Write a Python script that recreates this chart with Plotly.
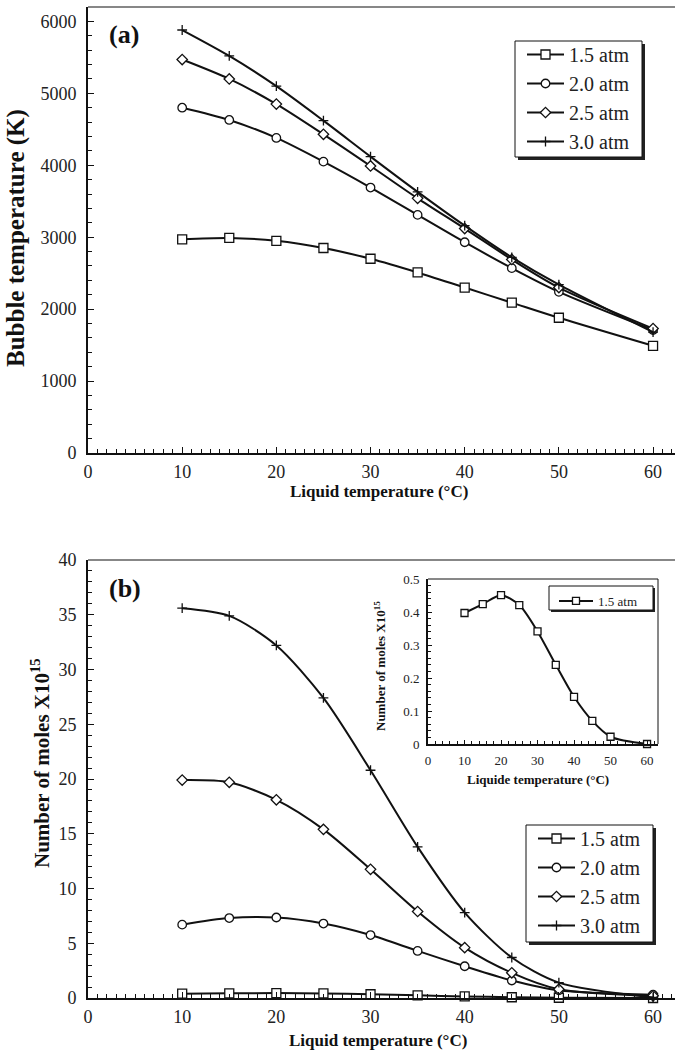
import plotly.graph_objects as go

# ---------------- data ----------------
liquid_temp = [10, 15, 20, 25, 30, 35, 40, 45, 50, 60]
series_names = ["1.5 atm", "2.0 atm", "2.5 atm", "3.0 atm"]

bubble_15 = [2970, 2990, 2950, 2850, 2700, 2510, 2300, 2090, 1880, 1490]
bubble_20 = [4800, 4630, 4380, 4050, 3690, 3310, 2930, 2570, 2240, 1710]
bubble_25 = [5470, 5200, 4850, 4430, 3990, 3540, 3120, 2690, 2300, 1730]
bubble_30 = [5880, 5520, 5100, 4620, 4120, 3630, 3160, 2720, 2340, 1680]

moles_15 = [0.397, 0.424, 0.451, 0.421, 0.341, 0.240, 0.143, 0.070, 0.022, 0.0]
moles_20 = [6.7, 7.3, 7.35, 6.8, 5.75, 4.3, 2.9, 1.6, 0.7, 0.3]
moles_25 = [19.9, 19.7, 18.1, 15.4, 11.75, 7.9, 4.6, 2.3, 0.8, 0.2]
moles_30 = [35.6, 34.9, 32.2, 27.4, 20.8, 13.8, 7.8, 3.7, 1.4, 0.05]

# ---------------- style ----------------
W, H = 675, 1055
FONT = "Liberation Serif"
INK = "#111111"

symbols = ["square", "circle", "diamond", "cross-thin"]
sizes = [9, 8.5, 8, 7]
fills = ["white", "white", "white", INK]


def px(x):
    return x / W


def py(y):
    return 1 - y / H


fig = go.Figure()


def add_series(xs, ys, idx, name, xa, ya, legend, lw=2.0, msize=None):
    fig.add_trace(go.Scatter(
        x=xs, y=ys, name=name, mode="lines+markers",
        xaxis=xa, yaxis=ya, legend=legend,
        line=dict(color=INK, width=lw, shape="spline", smoothing=0.8),
        marker=dict(symbol=symbols[idx], size=msize or sizes[idx], color=fills[idx],
                    line=dict(color=INK, width=1.3)),
        cliponaxis=False,
    ))


bubble = [bubble_15, bubble_20, bubble_25, bubble_30]
moles = [moles_15, moles_20, moles_25, moles_30]
for i, nm in enumerate(series_names):
    add_series(liquid_temp, bubble[i], i, nm, "x", "y", "legend")
for i, nm in enumerate(series_names):
    add_series(liquid_temp, moles[i], i, nm, "x2", "y2", "legend2")
add_series(liquid_temp, moles_15, 0, series_names[0], "x3", "y3", "legend3", lw=2.0, msize=7)

tickfont = dict(family=FONT, size=18, color="#222")
x_dom = [px(88), 1.0]


def axis_common(**kw):
    d = dict(showgrid=False, zeroline=False, showline=True, linecolor=INK, linewidth=2,
             ticks="inside", ticklen=6, tickwidth=1, tickcolor=INK,
             tickfont=tickfont, mirror=False, automargin=False)
    d.update(kw)
    return d


fig.update_layout(
    width=W, height=H, margin=dict(l=0, r=0, t=0, b=0, autoexpand=False),
    paper_bgcolor="white", plot_bgcolor="white",
    xaxis=axis_common(domain=x_dom, range=[0, 62.33], dtick=10, anchor="y",
                      minor=dict(dtick=1, ticks="inside", ticklen=4, tickcolor=INK),
                      ticklabelstandoff=1),
    yaxis=axis_common(domain=[py(453), py(7)], range=[0, 6200], dtick=1000, anchor="x",
                      minor=dict(dtick=200, ticks="inside", ticklen=4, tickcolor=INK),
                      ticklabelstandoff=6),
    xaxis2=axis_common(domain=x_dom, range=[0, 62.33], dtick=10, anchor="y2",
                       minor=dict(dtick=1, ticks="inside", ticklen=4, tickcolor=INK),
                       ticklabelstandoff=1),
    yaxis2=axis_common(domain=[py(998), py(560)], range=[0, 40], dtick=5, anchor="x2",
                       minor=dict(dtick=1, ticks="inside", ticklen=4, tickcolor=INK),
                       ticklabelstandoff=6),
    xaxis3=axis_common(domain=[px(428), px(658)], range=[0, 63], dtick=10, anchor="y3",
                       ticklen=4, tickfont=dict(family=FONT, size=13, color="#222"),
                       minor=dict(dtick=2, ticks="inside", ticklen=3, tickcolor=INK),
                       ticklabelstandoff=3),
    yaxis3=axis_common(domain=[py(744), py(579)], range=[0, 0.5], dtick=0.1, anchor="x3",
                       ticklen=4, tickfont=dict(family=FONT, size=13, color="#222"),
                       minor=dict(dtick=0.02, ticks="inside", ticklen=3, tickcolor=INK),
                       ticklabelstandoff=4),
    showlegend=True,
)

# legends
leg_common = dict(bgcolor="rgba(0,0,0,0)", borderwidth=0, itemwidth=37,
                  xanchor="left", yanchor="top",
                  font=dict(family=FONT, size=20, color="#222"))
fig.update_layout(
    legend=dict(x=px(522), y=py(35), **leg_common),
    legend2=dict(x=px(533), y=py(819), **leg_common),
    legend3=dict(x=px(554), y=py(586), bgcolor="rgba(0,0,0,0)", borderwidth=0,
                 itemwidth=34, xanchor="left", yanchor="top",
                 font=dict(family=FONT, size=13, color="#222")),
)

shapes = []


def legend_box(x0, y0, x1, y1, off):
    shapes.append(dict(type="rect", xref="paper", yref="paper",
                       x0=px(x0 + off), x1=px(x1 + off), y0=py(y1 + off), y1=py(y0 + off),
                       fillcolor="#222", line=dict(width=0), layer="above"))
    shapes.append(dict(type="rect", xref="paper", yref="paper",
                       x0=px(x0), x1=px(x1), y0=py(y1), y1=py(y0),
                       fillcolor="white", line=dict(color=INK, width=1), layer="above"))


legend_box(515, 41, 642, 157, 3)
legend_box(526, 825, 653, 942, 3)
legend_box(549, 586, 653, 610, 2)

# top borders of main plots and inset frame
for xr, yr in (("x domain", "y domain"), ("x2 domain", "y2 domain")):
    shapes.append(dict(type="line", xref=xr, yref=yr, x0=0, x1=1, y0=1, y1=1,
                       line=dict(color=INK, width=1.2), layer="above"))
shapes.append(dict(type="line", xref="x3 domain", yref="y3 domain", x0=0, x1=1, y0=1, y1=1,
                   line=dict(color=INK, width=1), layer="above"))
shapes.append(dict(type="line", xref="x3 domain", yref="y3 domain", x0=1, x1=1, y0=0, y1=1,
                   line=dict(color=INK, width=1), layer="above"))
fig.update_layout(shapes=shapes)

bold = lambda s: dict(family=FONT, size=s, color="#111")
ann = []


def add_text(text, x, y, size, angle=0):
    ann.append(dict(text=text, x=px(x), y=py(y), xref="paper", yref="paper",
                    showarrow=False, xanchor="center", yanchor="middle",
                    textangle=angle, font=bold(size)))


add_text("<b>(a)</b>", 124, 34, 26)
add_text("<b>(b)</b>", 125, 588, 26)
add_text("<b>Liquid temperature (°C)</b>", 379, 491, 17)
add_text("<b>Liquid temperature (°C)</b>", 378, 1040, 17)
add_text("<b>Bubble temperature (K)</b>", 16, 238, 25, -90)
add_text("<b>Number of moles X10<sup>15</sup></b>", 40, 763, 21, -90)
add_text("<b>Number of moles X10<sup>15</sup></b>", 380, 666, 13, -90)
add_text("<b>Liquide temperature (°C)</b>", 538, 779, 13)
fig.update_layout(annotations=ann)

fig.write_html("out.html", config={"displayModeBar": False},
               post_script="document.body.style.margin='0';document.body.style.overflow='hidden';")
